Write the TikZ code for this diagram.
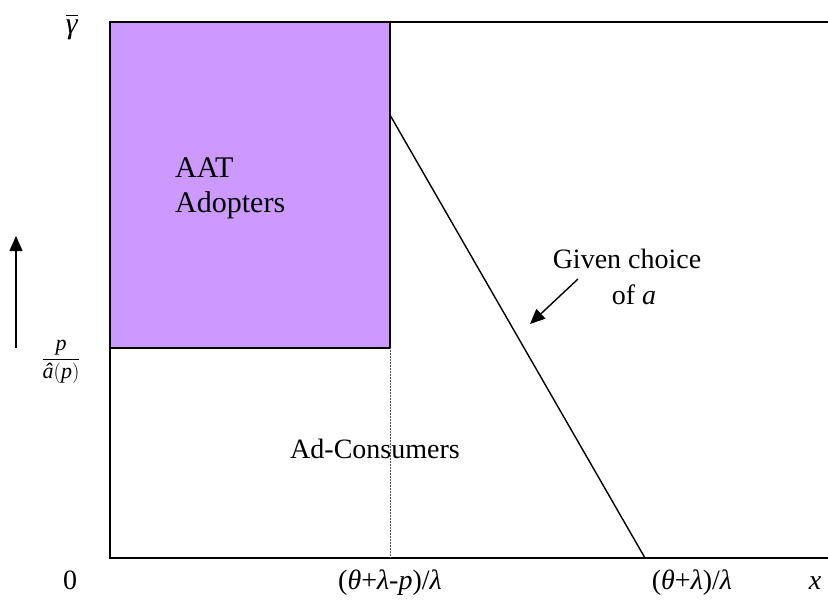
\documentclass[tikz,border=0pt]{standalone}
\usepackage{fontspec}
\setmainfont{Liberation Serif}
\usetikzlibrary{arrows.meta}
\definecolor{lav}{RGB}{204,153,255}
\tikzset{
  frame/.style={line width=1.7pt},
  lbl/.style={font=\fontsize{28}{32}\selectfont, inner sep=0pt},
  big/.style={font=\fontsize{30}{34}\selectfont, inner sep=0pt},
  arr/.style={line width=1.4pt,-{Triangle[length=15pt,width=13pt]}}
}
\begin{document}
\begin{tikzpicture}[x=1pt,y=1pt]
\useasboundingbox (0,0) rectangle (828,-607);
% purple region
\fill[lav] (110,-22) rectangle (390,-348);
% corners
\coordinate (tl) at (110,-22);
\coordinate (tr) at (828,-22);
\coordinate (bl) at (110,-558);
\coordinate (br) at (828,-558);
\coordinate (bm) at (390,-348);
\coordinate (lm) at (110,-348);
\coordinate (tm) at (390,-22);
\coordinate (dm) at (390,-558);
\coordinate (l1) at (390,-115);
\coordinate (l2) at (645,-558);
\draw[frame] (tr) -- (tl) -- (bl) -- (br);
\draw[frame] (tm) -- (bm) -- (lm);
\draw[gray!70!black, line width=0.5pt, densely dotted] (bm) -- (dm);
\draw[line width=1.4pt] (l1) -- (l2);
% arrows
\coordinate (a1) at (578,-279);
\coordinate (a2) at (530,-324);
\draw[arr] (a1) -- (a2);
\coordinate (u1) at (16,-348);
\coordinate (u2) at (16,-236);
\draw[arr] (u1) -- (u2);
% labels
\node[big, anchor=base west] (aat) at (175,-178) {AAT};
\node[big, anchor=base west] (adop) at (175,-213) {Adopters};
\node[lbl, anchor=base] (adc) at (375,-458) {Ad-Consumers};
\node[lbl, anchor=base] (gc) at (627,-269) {Given choice};
\node[lbl, anchor=base] (ofa) at (634,-304) {of \textit{a}};
\node[inner sep=0pt, font=\fontsize{30}{34}\selectfont] (gam) at (72,-27) {$\overline{\vphantom{A}\hbox{\textit{γ}}}$};
\node[inner sep=0pt, font=\fontsize{22}{26}\selectfont] (frac) at (61,-362) {$\displaystyle\frac{\hbox{\textit{p}}}{\hbox{\textit{â}}(\hbox{\textit{p}})}$};
\node[lbl, anchor=base] (zero) at (70,-589) {0};
\node[lbl, anchor=base] (xm) at (390,-589) {(\textit{θ}+\textit{λ}-\textit{p})/\textit{λ}};
\node[lbl, anchor=base] (xl) at (692,-589) {(\textit{θ}+\textit{λ})/\textit{λ}};
\node[lbl, anchor=base] (xx) at (815,-589) {\textit{x}};
\end{tikzpicture}
\end{document}
